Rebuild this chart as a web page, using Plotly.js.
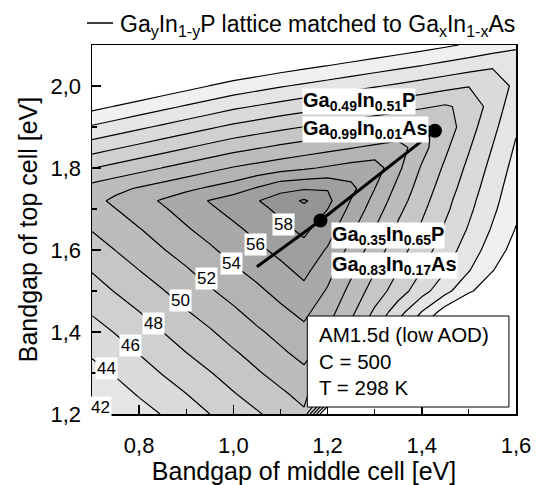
<!DOCTYPE html>
<html><head><meta charset="utf-8">
<script src="https://cdn.plot.ly/plotly-3.0.1.min.js"></script>
<style>html,body{margin:0;padding:0;background:#fff;}#chart{width:539px;height:485px;}</style>
</head><body><div id="chart"></div>
<script>
// Bandgap grid (eV)
const bandgapMiddle = [0.70,0.75,0.80,0.85,0.90,0.95,1.00,1.05,1.10,1.15,1.20,1.25,1.30,1.35,1.40,1.45,1.50,1.55,1.60];
const bandgapTop = [1.20,1.25,1.30,1.35,1.40,1.45,1.50,1.55,1.60,1.65,1.70,1.72,1.75,1.80,1.85,1.90,1.95,2.00,2.05,2.10];
// Efficiency (%), one row per top-cell bandgap
const efficiency = [
 [41.3,42.3,43.2,44.1,45.0,46.0,46.9,47.8,48.7,49.7,35.5,30,30,30,30,30,30,30,30],
 [42.3,43.2,44.2,45.1,46.0,46.9,47.9,48.8,49.7,50.6,47.4,38.1,30,30,30,30,30,30,30],
 [43.3,44.2,45.1,46.1,47.0,47.9,48.8,49.8,50.7,51.6,50.2,44.7,38.8,32.9,30,30,30,30,30],
 [44.3,45.2,46.1,47.0,48.0,48.9,49.8,50.7,51.7,52.6,51.0,47.6,43.4,39.2,34.9,30.7,30,30,30],
 [45.2,46.1,47.1,48.0,48.9,49.8,50.8,51.7,52.6,53.5,51.9,49.3,46.0,42.7,39.3,36.0,32.7,30,30],
 [46.2,47.1,48.0,49.0,49.9,50.8,51.7,52.7,53.6,54.5,52.8,50.5,47.7,44.9,42.0,39.1,36.3,33.4,30.6],
 [47.2,48.1,49.0,49.9,50.9,51.8,52.7,53.6,54.6,55.5,53.8,51.4,49.1,47.0,44.8,42.6,40.4,38.3,36.1],
 [48.1,49.1,49.98,50.9,51.8,52.8,53.7,54.6,55.5,56.5,54.7,52.4,50.1,48.0,46.0,44.1,42.1,40.1,38.1],
 [49.1,50.03,51.0,51.9,52.8,53.7,54.7,55.6,56.5,57.4,55.8,53.4,51.0,48.8,46.9,45.0,43.0,41.1,39.2],
 [50.1,51.0,51.9,52.8,53.8,54.7,55.6,56.5,57.5,58.4,56.9,54.4,51.96,49.6,47.7,45.7,43.8,41.8,39.9],
 [51.0,51.97,52.9,53.8,54.7,55.7,56.6,57.5,58.4,59.4,58.02,55.5,53.0,50.5,48.4,46.4,44.4,42.4,40.4],
 [51.4,52.4,53.3,54.2,55.1,56.1,57.0,57.9,58.8,60.3,58.5,55.9,53.4,50.9,48.7,46.6,44.6,42.6,40.6],
 [50.79,51.49,52.19,52.89,53.59,54.29,54.99,56.2,57.5,57.8,57.9,56.6,54.02,51.44,49.09,47.02,44.96,42.89,40.83],
 [47.94,48.64,49.34,50.04,50.74,51.44,52.14,52.69,53.24,53.74,54.24,54.74,55.07,52.4,49.79,47.66,45.53,43.4,41.28],
 [45.09,45.79,46.49,47.19,47.89,48.59,49.29,49.84,50.39,50.89,51.39,51.89,52.39,52.89,50.72,48.37,46.17,43.96,41.76],
 [42.24,42.94,43.64,44.34,45.04,45.74,46.44,46.99,47.54,48.04,48.54,49.04,49.54,50.04,50.54,49.09,46.82,44.55,42.27],
 [39.39,40.09,40.79,41.49,42.19,42.89,43.59,44.14,44.69,45.19,45.69,46.19,46.69,47.19,47.69,48.24,47.44,45.12,42.79],
 [36.54,37.24,37.94,38.64,39.34,40.04,40.74,41.29,41.84,42.34,42.84,43.34,43.84,44.34,44.84,45.39,45.94,45.71,43.33],
 [33.69,34.39,35.09,35.79,36.49,37.19,37.89,38.44,38.99,39.49,39.97,40.49,40.99,41.49,41.99,42.54,43.09,43.69,43.9],
 [30.84,31.54,32.24,32.94,33.64,34.34,35.04,35.59,36.14,36.64,37.14,37.64,38.14,38.64,39.14,39.69,40.24,40.84,41.44]
];
const labelLevels = [42,44,46,48,50,52,54,56,58];
// GaInP lattice matched to GaInAs line and the two marked compositions
const latticeMiddleGap = [1.05,1.185,1.428];
const latticeTopGap = [1.559,1.672,1.891];
const pointMiddleGap = [1.185,1.428];
const pointTopGap = [1.672,1.891];
const compositionTexts = [
  'Ga<sub>0.49</sub>In<sub>0.51</sub>P',
  'Ga<sub>0.99</sub>In<sub>0.01</sub>As',
  'Ga<sub>0.35</sub>In<sub>0.65</sub>P',
  'Ga<sub>0.83</sub>In<sub>0.17</sub>As'
];
const conditionLines = ['AM1.5d (low AOD)','C = 500','T = 298 K'];
const legendText = 'Ga<sub>y</sub>In<sub>1-y</sub>P lattice matched to Ga<sub>x</sub>In<sub>1-x</sub>As';

const FONT = 'Liberation Sans, Arial, Helvetica, sans-serif';
const grays = ['#ffffff','#f0f0f0','#e5e5e5','#dadada','#d0d0d0','#c6c6c6','#bcbcbc','#b3b3b3','#a9a9a9','#9f9f9f','#959595','#8b8b8b'];
const colorscale = grays.map((c,i)=>[i/(grays.length-1), c]);

const traces = [
 {type:'contour', x:bandgapMiddle, y:bandgapTop, z:efficiency,
  autocontour:false, contours:{start:40,end:60,size:2,coloring:'fill',showlines:true},
  line:{color:'#000',width:1.2,smoothing:0}, colorscale:colorscale, showscale:false, hoverinfo:'skip'},
 {type:'scatter', mode:'lines', x:latticeMiddleGap, y:latticeTopGap,
  line:{color:'#000',width:3}, hoverinfo:'skip'},
 {type:'scatter', mode:'markers', x:pointMiddleGap, y:pointTopGap,
  marker:{color:'#000',size:14}, hoverinfo:'skip'}
];

// contour label positions (data coords)
const labelPos = [[0.718,1.217],[0.731,1.311],[0.781,1.368],[0.830,1.421],[0.887,1.478],[0.944,1.531],[0.997,1.568],[1.047,1.614],[1.107,1.661]];
const annotations = labelLevels.map((lv,i)=>({
  x:labelPos[i][0], y:labelPos[i][1], xref:'x', yref:'y', text:String(lv), showarrow:false,
  font:{family:FONT,size:17,color:'#000'}, bgcolor:'#fff', borderpad:1
}));
const compPos = [[1.1468,1.961],[1.1468,1.894],[1.2064,1.636],[1.2064,1.561]];
compositionTexts.forEach((t,i)=>annotations.push({
  x:compPos[i][0], y:compPos[i][1], xref:'x', yref:'y', xanchor:'left', yanchor:'middle',
  text:'<b>'+t+'</b>', showarrow:false, font:{family:FONT,size:20,color:'#000'}, bgcolor:'#fff', borderpad:0
}));
annotations.push({
  x:1.1766, y:1.3288, xref:'x', yref:'y', xanchor:'left', yanchor:'middle', align:'left',
  text:conditionLines.join('<br>'), showarrow:false, font:{family:FONT,size:20.5,color:'#000'}
});
annotations.push({
  x:0.0613, y:1.0515, xref:'paper', yref:'paper', xanchor:'left', yanchor:'middle',
  text:legendText, showarrow:false, font:{family:FONT,size:23,color:'#000'}
});

const layout = {
  width:539, height:485, margin:{l:92,r:23,t:45,b:71,pad:0},
  paper_bgcolor:'#fff', plot_bgcolor:'#fff', showlegend:false,
  separators:',.', font:{family:FONT,color:'#000'},
  xaxis:{range:[0.7,1.6], dtick:0.2, tick0:0, tickformat:'.1f', ticks:'inside', ticklen:9, tickwidth:1.5, tickcolor:'#000',
    minor:{dtick:0.1, tick0:0, ticks:'inside', ticklen:5, tickwidth:1.2, tickcolor:'#000'},
    showline:true, linewidth:1.5, linecolor:'#000', mirror:true, showgrid:false, zeroline:false,
    tickfont:{size:22,family:FONT}, ticklabelstandoff:11,
    title:{text:'Bandgap of middle cell [eV]', font:{size:25,family:FONT}, standoff:16}},
  yaxis:{range:[1.2,2.1], dtick:0.2, tick0:0, tickformat:'.1f', ticks:'inside', ticklen:9, tickwidth:1.5, tickcolor:'#000',
    minor:{dtick:0.1, tick0:0, ticks:'inside', ticklen:5, tickwidth:1.2, tickcolor:'#000'},
    showline:true, linewidth:1.5, linecolor:'#000', mirror:true, showgrid:false, zeroline:false,
    tickfont:{size:22,family:FONT}, ticklabelstandoff:5,
    title:{text:'Bandgap of top cell [eV]', font:{size:25,family:FONT}, standoff:6}},
  shapes:[
    {type:'rect', xref:'x', yref:'y', x0:1.157, x1:1.585, y0:1.217, y1:1.439, fillcolor:'#fff', line:{color:'#000',width:1}, layer:'above'},
    {type:'line', xref:'paper', yref:'paper', x0:-0.0118, x1:0.0495, y0:1.0596, y1:1.0596, line:{color:'#000',width:1.5}}
  ],
  annotations:annotations
};
Plotly.newPlot('chart', traces, layout, {displayModeBar:false, staticPlot:true});
</script></body></html>
